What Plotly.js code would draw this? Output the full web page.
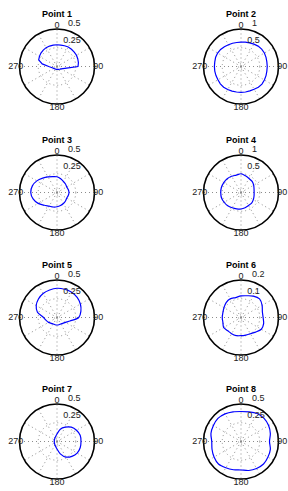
<!DOCTYPE html>
<html><head><meta charset="utf-8">
<script src="https://cdn.plot.ly/plotly-3.0.1.min.js"></script>
<style>html,body{margin:0;padding:0;background:#fff}#chart{width:288px;height:491px}</style>
</head><body><div id="chart"></div><script>
// ---- data ----
const titles = ['Point 1','Point 2','Point 3','Point 4','Point 5','Point 6','Point 7','Point 8'];
const rMax = [0.5, 1, 0.5, 1, 0.5, 0.2, 0.5, 0.5];
const rMid = [0.25, 0.5, 0.25, 0.5, 0.25, 0.1, 0.25, 0.25];
const rMaxLabel = ['0.5','1','0.5','1','0.5','0.2','0.5','0.5'];
const rMidLabel = ['0.25','0.5','0.25','0.5','0.25','0.1','0.25','0.25'];
const angleLabelVals = [0, 90, 180, 270];
const angleLabelText = ['0', '90', '180', '270'];
const spokeVals = [0,30,60,90,120,150,180,210,240,270,300,330];
const theta10 = [0,10,20,30,40,50,60,70,80,90,100,110,120,130,140,150,160,170,180,190,200,210,220,230,240,250,260,270,280,290,300,310,320,330,340,350,360];
const theta15 = [0,15,30,45,60,75,90,105,120,135,150,165,180,195,210,225,240,255,270,285,300,315,330,345,360];
const p1 = [0.29,0.29,0.295,0.30,0.30,0.30,0.30,0.295,0.29,0.28,0.13,0.085,0.065,0.055,0.048,0.043,0.04,0.04,0.04,0.038,0.038,0.04,0.042,0.045,0.05,0.058,0.075,0.11,0.2,0.26,0.27,0.28,0.285,0.29,0.29,0.29,0.29];
const p2 = [0.65,0.66,0.67,0.69,0.71,0.72,0.72,0.71,0.70,0.70,0.70,0.71,0.72,0.73,0.72,0.70,0.69,0.69,0.69,0.69,0.70,0.71,0.72,0.72,0.71,0.71,0.71,0.71,0.71,0.72,0.72,0.71,0.69,0.67,0.66,0.65,0.65];
const p3 = [0.21,0.19,0.17,0.16,0.15,0.155,0.16,0.155,0.15,0.16,0.17,0.18,0.19,0.20,0.21,0.24,0.29,0.33,0.35,0.34,0.31,0.27,0.24,0.22,0.21];
const p4 = [0.50,0.46,0.43,0.42,0.39,0.36,0.35,0.36,0.38,0.40,0.40,0.42,0.44,0.45,0.47,0.50,0.52,0.54,0.54,0.54,0.53,0.52,0.50,0.48,0.50];
const p5 = [0.39,0.39,0.39,0.38,0.36,0.33,0.29,0.18,0.13,0.11,0.10,0.10,0.10,0.10,0.10,0.11,0.13,0.15,0.18,0.27,0.32,0.35,0.37,0.38,0.39];
const p6 = [0.115,0.12,0.132,0.14,0.13,0.118,0.118,0.125,0.125,0.11,0.10,0.097,0.097,0.10,0.10,0.10,0.107,0.10,0.10,0.10,0.105,0.112,0.115,0.11,0.115];
const p7 = [0.10,0.17,0.22,0.27,0.30,0.32,0.32,0.32,0.31,0.28,0.24,0.17,0.10,0.07,0.055,0.045,0.04,0.038,0.036,0.038,0.04,0.045,0.055,0.07,0.10];
const p8 = [0.40,0.41,0.43,0.435,0.425,0.405,0.38,0.405,0.415,0.425,0.415,0.40,0.38,0.39,0.405,0.425,0.415,0.40,0.39,0.415,0.425,0.435,0.425,0.41,0.40];
const series = [p1,p2,p3,p4,p5,p6,p7,p8];
const thetas = [theta10,theta10,theta15,theta15,theta15,theta15,theta15,theta15];

// ---- layout constants ----
const W = 288, H = 491, R = 37.5;
const colX = [57, 241];
const rowY = [66.5, 192.5, 317.5, 441.5];
const OUTER = 1.12;          // label overlay extends past the axis circle
const ANG_LABEL_R = 1.1;     // angle labels sit at 1.1 x rmax (centred)
const RAD_LABEL_THETA = 16;  // radial labels sit just right of the 0 spoke
const RAD_LABEL_POS = [0.6, 1.06];
const FONT = 'Liberation Sans, Arial, Helvetica, sans-serif';
const GRID = '#8c8c8c';
const DASH = '1px,3px';

const data = [];
const layout = {
  width: W, height: H, margin: {l:0, r:0, t:0, b:0},
  paper_bgcolor: '#fff', showlegend: false,
  font: {family: FONT, size: 9, color: '#000'},
  annotations: []
};
function dom(cx, cy, rad) {
  return {x: [(cx - rad) / W, (cx + rad) / W], y: [(H - cy - rad) / H, (H - cy + rad) / H]};
}
for (let i = 0; i < 8; i++) {
  const cx = colX[i % 2], cy = rowY[Math.floor(i / 2)];
  const key = i === 0 ? 'polar' : 'polar' + (i + 1);
  const keyB = 'polar' + (i + 9);
  data.push({
    type: 'scatterpolar', mode: 'lines', subplot: key,
    r: series[i], theta: thetas[i],
    line: {color: '#0000ff', width: 1.2, shape: i < 2 ? 'linear' : 'spline', smoothing: 0.8},
    hoverinfo: 'skip'
  });
  layout[key] = {
    domain: dom(cx, cy, R),
    bgcolor: '#fff',
    angularaxis: {
      rotation: 90, direction: 'clockwise',
      tickmode: 'array', tickvals: spokeVals, showticklabels: false,
      ticks: '', showline: true, linecolor: '#000', linewidth: 1.6,
      showgrid: true, gridcolor: GRID, gridwidth: 1, griddash: DASH
    },
    radialaxis: {
      range: [0, rMax[i]],
      tickmode: 'array', tickvals: [rMax[i] * 0.07, rMid[i], rMax[i]],
      showticklabels: false, ticks: '', showline: false,
      showgrid: true, gridcolor: GRID, gridwidth: 1, griddash: DASH
    }
  };
  // label overlay: same centre, same radial scale, extends to OUTER x rmax
  const labR = angleLabelVals.map(() => rMax[i] * ANG_LABEL_R)
    .concat(RAD_LABEL_POS.map(f => rMax[i] * f));
  data.push({
    type: 'scatterpolar', mode: 'text', subplot: keyB, cliponaxis: false,
    r: labR,
    theta: angleLabelVals.concat([RAD_LABEL_THETA, RAD_LABEL_THETA]),
    text: angleLabelText.concat([rMidLabel[i], rMaxLabel[i]]),
    textposition: ['middle center','middle center','middle center','middle center','top right','top right'],
    textfont: {size: 9, color: '#222', family: FONT},
    hoverinfo: 'skip'
  });
  layout[keyB] = {
    domain: dom(cx, cy, R * OUTER),
    bgcolor: 'rgba(0,0,0,0)',
    angularaxis: {rotation: 90, direction: 'clockwise', visible: false},
    radialaxis: {range: [0, rMax[i] * OUTER], visible: false}
  };
  layout.annotations.push({
    text: '<b>' + titles[i] + '</b>', xref: 'paper', yref: 'paper',
    x: cx / W, y: (H - (cy - R - 15)) / H, xanchor: 'center', yanchor: 'middle',
    showarrow: false, font: {size: 9, color: '#000', family: FONT}
  });
}
Plotly.newPlot('chart', data, layout, {staticPlot: true, displayModeBar: false});
</script></body></html>
